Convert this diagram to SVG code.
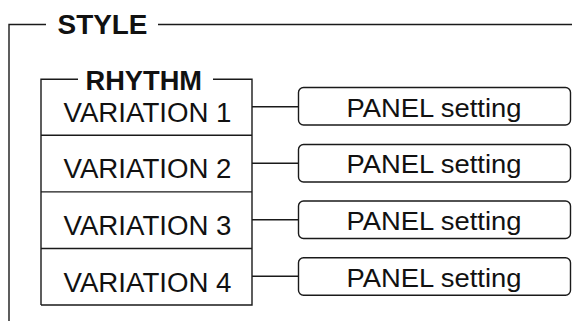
<svg xmlns="http://www.w3.org/2000/svg" width="572" height="321" viewBox="0 0 572 321">
<style>
.ln{fill:none;stroke:#1a1a1a;stroke-width:1.4}
.bx{fill:#fff;stroke:#1a1a1a;stroke-width:1.4}
.t{font-family:"Liberation Sans",Arial,sans-serif;fill:#111}
.b{font-weight:bold;font-size:27px}
.v{font-size:27px}
.p{font-size:26px}
</style>
<rect width="572" height="321" fill="#fff"/>
<g id="style-frame">
<path class="ln" d="M9 321V24.5H46M158 24.5H572"/>
<text class="t b" x="57.5" y="34.3" textLength="90" lengthAdjust="spacingAndGlyphs">STYLE</text>
</g>
<g id="rhythm">
<path class="ln" d="M41 305V79.3H78M213 79.3H252V305H41"/>
<text class="t b" x="85.5" y="89.5" textLength="116.5" lengthAdjust="spacingAndGlyphs">RHYTHM</text>
</g>
<g id="variation1">
<text class="t v" x="63.5" y="121.7" textLength="168" lengthAdjust="spacingAndGlyphs">VARIATION 1</text>
</g>
<g id="variation2">
<path class="ln" d="M41 135.3H252"/>
<text class="t v" x="63.5" y="178.3" textLength="168" lengthAdjust="spacingAndGlyphs">VARIATION 2</text>
</g>
<g id="variation3">
<path class="ln" d="M41 191.9H252"/>
<text class="t v" x="63.5" y="234.9" textLength="168" lengthAdjust="spacingAndGlyphs">VARIATION 3</text>
</g>
<g id="variation4">
<path class="ln" d="M41 248.5H252"/>
<text class="t v" x="63.5" y="291.5" textLength="168" lengthAdjust="spacingAndGlyphs">VARIATION 4</text>
</g>
<g id="connectors">
<path class="ln" d="M252 106.7H298.5M252 163.2H298.5M252 219.7H298.5M252 276.2H298.5"/>
</g>
<g id="panel1">
<rect class="bx" x="298.5" y="87.5" width="272" height="37.5" rx="5"/>
<text class="t p" x="346.5" y="116.5" textLength="175" lengthAdjust="spacingAndGlyphs">PANEL setting</text>
</g>
<g id="panel2">
<rect class="bx" x="298.5" y="144.5" width="272" height="37.5" rx="5"/>
<text class="t p" x="346.5" y="173.3" textLength="175" lengthAdjust="spacingAndGlyphs">PANEL setting</text>
</g>
<g id="panel3">
<rect class="bx" x="298.5" y="201" width="272" height="37.5" rx="5"/>
<text class="t p" x="346.5" y="229.8" textLength="175" lengthAdjust="spacingAndGlyphs">PANEL setting</text>
</g>
<g id="panel4">
<rect class="bx" x="298.5" y="257.8" width="272" height="37.5" rx="5"/>
<text class="t p" x="346.5" y="286.5" textLength="175" lengthAdjust="spacingAndGlyphs">PANEL setting</text>
</g>
</svg>
